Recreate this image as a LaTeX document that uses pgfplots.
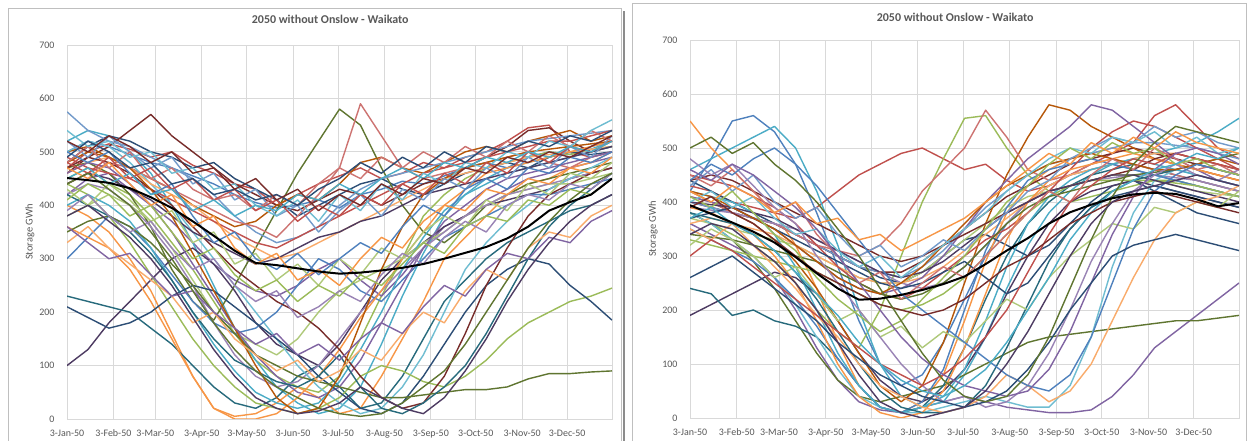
\documentclass[border=0pt]{standalone}
\usepackage{pgfplots}
\usepackage{pgfplotstable}
\pgfplotsset{compat=1.18}
\usepackage{fontspec}
\setmainfont{Carlito}
\definecolor{e1}{HTML}{4F81BD}
\definecolor{e2}{HTML}{C0504D}
\definecolor{e3}{HTML}{9BBB59}
\definecolor{e4}{HTML}{8064A2}
\definecolor{e5}{HTML}{4BACC6}
\definecolor{e6}{HTML}{F79646}
\definecolor{e7}{HTML}{2C4D75}
\definecolor{e8}{HTML}{772C2A}
\definecolor{e9}{HTML}{5F7530}
\definecolor{e10}{HTML}{4D3B62}
\definecolor{e11}{HTML}{276A7C}
\definecolor{e12}{HTML}{B65708}
\definecolor{e13}{HTML}{729ACA}
\definecolor{e14}{HTML}{CD7371}
\definecolor{e15}{HTML}{AFC97A}
\definecolor{e16}{HTML}{9983B5}
\definecolor{e17}{HTML}{6FBDD1}
\definecolor{e18}{HTML}{F9AB6B}
\definecolor{gridc}{HTML}{D9D9D9}
\definecolor{txt}{HTML}{595959}
\definecolor{framec}{HTML}{BFBFBF}

\pgfplotsset{
  excelstyle/.style={
    scale only axis, xmin=0, xmax=364, ymin=0, ymax=700,
    xtick={0,31,59,90,120,151,181,212,243,273,304,334},
    xticklabels={3-Jan-50,3-Feb-50,3-Mar-50,3-Apr-50,3-May-50,3-Jun-50,3-Jul-50,3-Aug-50,3-Sep-50,3-Oct-50,3-Nov-50,3-Dec-50},
    ytick={0,100,200,300,400,500,600,700},
    grid=major, major grid style={gridc, line width=0.75bp},
    axis line style={gridc, line width=0.75bp},
    tick style={draw=none},
    tick label style={font=\fontsize{10}{12}\selectfont, text=txt},
    /pgf/number format/assume math mode=true,
    yticklabel style={xshift=-9bp},
    xticklabel style={anchor=base, yshift=-17bp},
    ylabel={Storage GWh},
    ylabel style={font=\fontsize{10.5}{12}\selectfont, text=txt, anchor=center},
    title={2050 without Onslow - Waikato},
    title style={anchor=center, font=\bfseries\fontsize{12}{14}\selectfont, text=txt},
    cycle list={{e1},{e2},{e3},{e4},{e5},{e6},{e7},{e8},{e9},{e10},{e11},{e12},{e13},{e14},{e15},{e16},{e17},{e18}},
    every axis plot/.append style={line width=1.4bp, line join=round, mark=none},
  }
}

\begin{document}
\pgfplotstableread{
name c0 c1 c2 c3 c4 c5 c6 c7 c8 c9 c10 c11 c12 c13 c14 c15 c16 c17 c18 c19 c20 c21 c22 c23 c24 c25 c26
day 0 14 28 42 56 70 84 98 112 126 140 154 168 182 196 210 224 238 252 266 280 294 308 322 336 350 364
s1 500 520 510 495 480 470 455 440 420 405 395 400 410 395 420 430 445 440 455 470 480 470 490 500 495 510 520
s2 470 500 515 505 490 500 475 460 440 430 400 420 440 455 470 450 460 480 470 490 500 520 545 550 500 490 500
s3 450 470 440 420 380 330 280 220 160 110 80 60 50 80 150 230 300 380 420 450 470 480 490 500 495 505 510
s4 420 450 460 430 400 370 330 290 260 240 230 250 280 300 260 230 270 320 360 380 410 430 450 460 470 480 490
s5 520 540 530 500 460 400 330 250 170 110 60 30 10 20 60 140 230 310 380 420 450 470 480 490 500 505 520
s6 400 380 350 300 240 160 80 20 5 10 30 60 40 10 20 80 150 220 300 340 380 420 440 450 470 480 500
s7 480 510 530 520 500 490 470 480 450 430 410 380 400 420 440 450 430 420 440 460 470 480 470 490 500 495 500
s8 460 490 510 540 570 530 500 470 440 420 400 390 410 430 420 400 420 440 450 470 490 510 540 545 520 500 510
s9 470 480 460 420 360 280 220 185 250 320 390 460 520 580 550 470 400 350 330 360 400 420 440 450 460 470 480
s10 100 130 180 220 260 300 320 290 240 180 140 120 100 140 200 260 300 330 360 380 400 410 420 430 450 460 470
s11 230 220 210 200 170 140 100 60 30 20 40 80 100 60 20 30 80 150 220 260 300 330 350 370 390 400 420
s12 500 510 490 470 450 430 400 380 360 370 400 420 410 440 480 490 470 460 480 500 510 500 520 530 540 520 530
s13 575 540 520 510 490 470 450 420 380 350 330 340 360 400 430 450 460 470 480 490 500 510 520 525 530 535 540
s14 440 460 480 470 450 430 410 390 370 360 340 380 420 470 590 530 470 450 460 470 480 490 500 480 470 490 500
s15 380 400 420 400 370 320 260 200 160 140 120 150 200 240 260 280 300 330 350 380 400 420 430 440 440 450 460
s16 420 440 430 400 360 310 250 180 120 80 60 70 100 150 200 240 280 320 350 380 400 420 430 440 450 460 470
s17 500 520 510 480 440 400 350 300 250 200 150 100 60 30 10 20 60 120 200 280 330 370 400 430 450 470 490
s18 460 480 490 470 440 420 400 370 340 320 300 310 330 350 370 390 410 430 450 460 470 480 490 495 500 505 510
s19 300 340 380 360 320 270 220 180 160 170 200 250 300 280 240 220 260 300 340 360 380 400 420 420 430 440 450
s20 490 470 460 450 430 410 390 370 350 330 320 340 360 380 400 420 440 460 470 480 490 500 510 520 520 530 540
s21 440 420 380 330 270 210 150 100 60 30 20 10 20 40 80 100 90 70 60 80 110 150 180 200 220 230 245
s22 460 480 470 440 400 350 290 230 170 120 80 50 40 60 110 180 250 320 370 400 430 450 460 470 480 490 500
s23 400 420 400 370 320 260 200 140 90 50 30 20 30 70 130 200 280 340 390 420 440 460 470 480 490 500 510
s24 360 340 320 280 220 150 80 20 0 0 10 40 80 130 190 240 300 350 400 430 460 470 480 490 500 510 520
s25 210 190 170 180 200 230 250 240 210 180 150 120 80 50 20 10 30 80 140 200 250 280 300 290 250 220 185
s26 470 490 480 460 430 400 360 320 280 250 220 200 170 130 80 40 20 30 80 160 250 320 380 420 440 460 470
s27 350 370 380 360 330 290 250 200 160 120 100 80 70 60 50 40 40 45 50 55 55 60 75 85 85 88 90
s28 440 460 450 430 410 380 350 330 310 290 300 320 340 350 370 380 400 420 430 440 450 460 470 480 490 500 510
s29 420 400 380 350 310 260 200 150 110 90 70 60 80 120 60 20 10 30 60 100 160 230 300 360 400 430 460
s30 480 500 490 470 430 380 310 240 170 100 40 10 20 80 180 280 360 420 450 470 480 490 500 505 510 515 520
s31 520 490 530 500 470 490 440 460 410 430 380 400 350 390 420 380 430 410 450 430 470 450 490 470 510 490 530
s32 480 510 470 500 450 470 430 410 420 390 420 400 440 470 450 490 470 500 480 510 490 520 500 530 510 540 520
s33 430 400 440 410 370 390 330 350 290 310 260 290 250 300 270 320 300 350 380 360 410 390 440 420 460 450 480
s34 390 420 380 350 370 320 280 300 250 220 240 190 210 240 220 270 310 290 340 370 350 400 420 410 440 430 460
s35 540 510 520 490 500 460 470 430 440 400 380 410 370 420 390 440 410 460 440 480 470 500 490 520 510 540 560
s36 330 360 320 290 260 230 180 200 150 120 90 110 70 90 130 110 160 200 180 240 280 260 320 350 340 380 400
s37 500 480 500 460 420 440 380 330 350 300 280 310 270 300 330 310 360 400 380 430 450 430 470 460 490 480 500
s38 480 460 490 450 470 430 450 410 430 390 410 370 400 380 420 400 440 420 460 440 480 460 500 480 510 500 520
s39 410 440 420 380 400 350 300 320 270 240 260 220 250 230 270 250 290 330 310 360 380 370 410 400 430 420 450
s40 360 330 300 310 270 230 240 200 170 140 160 120 140 110 150 180 160 210 250 230 280 310 300 340 330 370 390
s41 450 470 440 460 420 430 390 410 380 400 390 420 410 440 420 450 470 450 480 470 490 480 500 490 510 500 520
s42 470 450 480 440 400 420 360 380 320 290 310 260 280 250 300 340 320 370 400 390 430 420 450 440 470 460 490
s43 490 520 500 470 480 440 450 420 430 410 420 400 430 450 480 460 490 470 500 480 510 500 520 510 530 520 540
s44 520 500 530 510 480 500 460 470 430 450 410 430 390 420 400 440 420 450 440 470 460 490 480 500 490 510 530
s45 440 460 430 400 350 300 240 180 130 90 60 40 20 10 5 10 30 60 90 140 200 260 320 370 410 440 460
s46 380 400 370 340 300 250 190 130 80 40 20 10 15 30 60 40 20 10 40 90 150 220 280 330 370 400 420
m 451 447 442 432 415 395 370 343 315 292 288 282 276 272 274 278 283 290 300 311 322 338 360 390 406 420 450
}\Lraw
\pgfplotstabletranspose[colnames from=name]\Ldata\Lraw
\pgfplotstableread{
name c0 c1 c2 c3 c4 c5 c6 c7 c8 c9 c10 c11 c12 c13 c14 c15 c16 c17 c18 c19 c20 c21 c22 c23 c24 c25 c26
day 0 14 28 42 56 70 84 98 112 126 140 154 168 182 196 210 224 238 252 266 280 294 308 322 336 350 364
s1 420 480 550 560 530 470 380 280 180 100 60 80 140 220 300 360 400 430 450 460 470 460 450 440 430 420 410
s2 430 420 400 390 380 370 390 420 450 470 490 500 480 460 470 440 420 430 450 470 490 510 560 580 540 500 480
s3 380 360 340 320 290 250 200 160 130 200 300 400 480 555 560 500 450 420 400 410 420 430 440 440 430 420 410
s4 360 340 320 300 260 200 130 70 30 15 10 20 30 40 30 20 15 10 10 15 40 80 130 160 190 220 250
s5 460 480 500 520 540 500 420 320 200 100 40 20 30 80 150 240 320 380 420 450 470 480 490 500 510 530 555
s6 550 500 460 420 380 320 240 140 60 20 10 30 80 180 290 380 430 460 480 490 500 490 480 470 460 450 440
s7 440 420 400 380 360 340 320 300 280 260 250 270 300 330 340 320 300 320 360 400 430 440 420 400 380 370 360
s8 400 390 380 370 360 340 320 300 280 270 270 290 320 350 380 410 430 450 470 480 490 500 490 480 470 460 450
s9 380 360 330 290 240 180 120 70 40 30 40 50 60 80 100 120 140 150 155 160 165 170 175 180 180 185 190
s10 190 210 230 250 270 260 230 180 120 70 40 30 50 90 150 230 300 360 400 420 430 440 430 420 410 400 390
s11 240 230 190 200 180 170 150 110 60 20 10 20 60 130 220 300 360 400 430 450 460 470 460 450 440 430 420
s12 420 400 380 360 330 290 240 180 120 60 30 60 140 250 360 450 520 580 570 540 520 500 480 470 460 450 440
s13 400 390 380 370 360 340 320 300 280 270 260 280 310 350 390 420 450 470 480 490 500 510 510 505 500 490 480
s14 410 400 380 370 360 340 320 310 300 320 360 420 460 500 570 520 460 440 450 470 480 470 460 450 440 430 420
s15 370 360 350 340 330 320 300 280 260 250 250 270 300 330 360 390 410 420 430 440 450 450 440 430 420 415 410
s16 390 385 380 370 360 350 330 310 290 270 250 240 250 280 320 360 400 420 430 440 445 450 450 445 440 430 420
s17 380 360 330 300 260 210 150 90 40 20 10 10 20 30 40 30 20 20 60 150 280 380 440 460 450 440 430
s18 360 370 360 350 340 320 300 280 260 250 250 260 280 310 340 370 400 430 450 460 470 480 490 490 480 470 460
s19 350 330 310 290 260 220 170 110 60 20 10 30 90 200 310 390 440 460 470 480 470 460 450 440 430 420 410
s20 450 440 430 410 390 360 320 280 250 230 220 240 270 300 330 350 380 420 460 500 530 550 540 520 500 480 460
s21 330 320 310 300 290 280 270 250 230 210 200 210 230 260 300 340 380 410 430 440 440 440 440 435 430 420 410
s22 410 400 390 370 350 320 290 260 240 230 240 260 300 350 400 440 480 510 540 580 570 540 510 480 460 440 430
s23 420 410 400 380 340 280 200 120 60 20 10 20 40 90 180 280 360 410 440 460 470 480 470 460 450 440 430
s24 390 380 360 340 300 250 180 100 40 10 0 10 50 130 230 330 400 440 460 470 480 490 480 470 460 450 440
s25 370 380 390 370 350 330 310 290 270 250 240 250 270 290 260 230 250 300 350 390 410 420 430 420 410 400 390
s26 440 450 440 420 400 380 360 340 320 300 290 300 320 340 360 380 400 420 430 440 450 460 480 490 480 470 460
s27 340 335 330 320 310 300 290 270 250 230 220 230 250 280 320 360 390 410 420 430 440 450 455 460 470 480 490
s28 400 395 390 380 370 350 330 310 290 270 260 270 290 320 350 380 400 420 430 440 450 450 440 430 420 410 400
s29 380 370 360 340 310 270 220 160 100 50 20 10 10 20 60 130 210 290 350 390 420 440 450 460 470 460 450
s30 420 410 390 370 350 320 290 260 240 230 250 280 320 360 400 430 450 470 480 490 480 470 460 460 470 480 470
s31 430 460 420 450 400 370 390 340 300 320 280 300 330 310 350 380 420 440 480 500 520 510 540 520 530 510 500
s32 450 430 460 420 380 400 340 300 250 270 220 250 280 260 300 340 380 420 400 450 480 460 500 480 460 470 450
s33 320 350 330 300 260 280 230 180 200 150 170 130 160 140 180 220 200 260 300 330 360 350 390 380 400 390 420
s34 480 450 470 430 390 360 300 250 200 150 100 60 30 40 20 30 60 120 200 290 360 420 450 470 450 440 460
s35 400 420 390 410 370 340 350 310 280 300 260 290 320 350 380 420 450 480 500 490 520 510 530 500 520 490 500
s36 350 330 360 320 280 240 190 150 100 60 40 20 10 20 40 80 60 30 50 100 180 260 330 380 400 410 430
s37 440 470 450 480 500 470 430 380 330 280 230 200 170 140 110 80 60 50 80 150 250 350 420 450 470 460 450
s38 300 330 310 280 250 220 190 160 130 100 80 60 80 110 150 200 270 340 400 430 460 480 470 490 480 470 460
s39 410 390 420 380 340 310 260 220 190 160 180 220 260 300 350 400 430 470 500 480 510 490 500 470 480 460 450
s40 460 440 470 450 420 390 350 300 250 200 150 110 80 60 50 40 50 90 160 250 340 410 460 490 500 490 470
s41 370 390 360 340 310 270 230 190 140 100 70 50 40 60 90 140 200 260 330 380 420 440 460 470 490 480 500
s42 420 400 430 410 380 400 360 370 330 340 310 330 350 370 400 430 460 490 470 510 490 520 500 530 510 500 490
s43 260 280 300 270 240 210 180 140 110 80 60 40 30 20 30 50 90 140 200 250 300 320 330 340 330 320 310
s44 390 410 380 360 330 300 270 250 230 210 200 190 200 220 250 280 300 330 360 380 400 410 420 410 400 390 380
s45 500 520 490 510 470 440 400 350 300 240 180 120 70 40 30 40 80 150 240 330 410 470 510 540 530 520 510
s46 340 360 350 320 290 250 200 140 80 30 10 0 10 20 50 100 160 230 300 360 400 420 430 440 450 440 430
m 394 378 362 345 325 298 268 240 219 221 228 237 248 262 285 310 333 360 381 395 407 414 417 415 405 392 398
}\Rraw
\pgfplotstabletranspose[colnames from=name]\Rdata\Rraw
\begin{tikzpicture}
\useasboundingbox (0,0) rectangle (1249bp,441bp);
\fill[white] (0,0) rectangle (1249bp,441bp);
\draw[framec, line width=1bp] (8bp,-5bp) rectangle (621bp,432bp);
\draw[black!45, line width=2bp] (623.5bp,-5bp) -- (623.5bp,430bp);
\draw[framec, line width=1bp] (632bp,-5bp) rectangle (1246bp,437bp);
\begin{axis}[excelstyle, at={(67bp,22bp)}, anchor=south west, width=545bp, height=374bp,
  title style={at={(0.483,1)}, yshift=20bp},
  ylabel style={at={(axis description cs:-0.068,0.5)}}]
\pgfplotsinvokeforeach{1,...,46}{\addplot+[] table[x=day,y=s#1]{\Ldata};}
\addplot[black, line width=2bp, line join=round] table[x=day,y=m]{\Ldata};
\end{axis}
\begin{axis}[excelstyle, at={(690bp,23bp)}, anchor=south west, width=549bp, height=378bp,
  title style={at={(0.483,1)}, yshift=17bp},
  ylabel style={at={(axis description cs:-0.067,0.5)}}]
\pgfplotsinvokeforeach{1,...,46}{\addplot+[] table[x=day,y=s#1]{\Rdata};}
\addplot[black, line width=2bp, line join=round] table[x=day,y=m]{\Rdata};
\end{axis}
\end{tikzpicture}
\end{document}
